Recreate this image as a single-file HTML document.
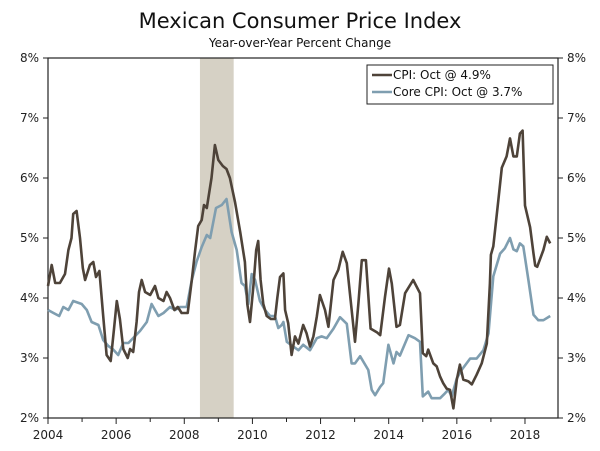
<!DOCTYPE html>
<html><head><meta charset="utf-8"><style>
html,body{margin:0;padding:0;background:#fff;}
svg{display:block;font-family:"DejaVu Sans","Liberation Sans",sans-serif;}
</style></head><body>
<svg id="chart" width="600" height="451" viewBox="0 0 600 451">
<text x="300" y="28" text-anchor="middle" font-size="21" fill="#111">Mexican Consumer Price Index</text>
<text x="300" y="47" text-anchor="middle" font-size="12" fill="#111">Year-over-Year Percent Change</text>
<g id="plot"></g>
</svg>
<script>
const yTicks=[2,3,4,5,6,7,8];
const xTickYears=[2004,2005,2006,2007,2008,2009,2010,2011,2012,2013,2014,2015,2016,2017,2018];
const xLabelYears=[2004,2006,2008,2010,2012,2014,2016,2018];
const recession=[2008.46,2009.45];
const cpiDates=[2004.00,2004.11,2004.21,2004.35,2004.50,2004.60,2004.69,2004.74,2004.84,2004.94,2005.02,2005.09,2005.23,2005.33,2005.41,2005.51,2005.62,2005.72,2005.84,2005.94,2006.02,2006.11,2006.21,2006.34,2006.41,2006.50,2006.60,2006.67,2006.75,2006.85,2007.00,2007.14,2007.24,2007.39,2007.48,2007.58,2007.71,2007.81,2007.92,2008.10,2008.22,2008.32,2008.41,2008.51,2008.58,2008.66,2008.80,2008.90,2009.00,2009.13,2009.24,2009.34,2009.49,2009.64,2009.78,2009.85,2009.93,2010.03,2010.11,2010.17,2010.24,2010.32,2010.42,2010.54,2010.66,2010.73,2010.81,2010.91,2010.96,2011.05,2011.15,2011.25,2011.35,2011.49,2011.59,2011.69,2011.79,2011.89,2011.98,2012.13,2012.23,2012.38,2012.52,2012.65,2012.77,2012.86,2013.01,2013.11,2013.21,2013.33,2013.47,2013.65,2013.75,2013.89,2014.01,2014.09,2014.23,2014.33,2014.48,2014.72,2014.92,2015.00,2015.10,2015.16,2015.31,2015.41,2015.51,2015.60,2015.70,2015.80,2015.90,2016.00,2016.09,2016.19,2016.34,2016.44,2016.58,2016.73,2016.88,2016.97,2017.00,2017.07,2017.22,2017.32,2017.46,2017.56,2017.66,2017.76,2017.85,2017.93,2018.00,2018.15,2018.25,2018.30,2018.36,2018.54,2018.64,2018.74];
const cpiValues=[4.2,4.55,4.25,4.25,4.4,4.8,5.0,5.4,5.45,5.0,4.5,4.3,4.55,4.6,4.35,4.45,3.7,3.05,2.95,3.5,3.95,3.65,3.15,3.0,3.15,3.1,3.6,4.1,4.3,4.1,4.05,4.2,4.0,3.95,4.1,4.0,3.8,3.85,3.75,3.75,4.3,4.8,5.2,5.3,5.55,5.5,6.0,6.55,6.3,6.2,6.15,6.0,5.6,5.1,4.6,3.9,3.6,4.2,4.8,4.95,4.3,3.9,3.7,3.65,3.65,4.0,4.35,4.41,3.8,3.58,3.05,3.36,3.24,3.55,3.41,3.19,3.36,3.69,4.05,3.8,3.52,4.3,4.47,4.77,4.58,4.08,3.27,3.91,4.63,4.63,3.49,3.43,3.38,4.02,4.49,4.24,3.52,3.55,4.08,4.3,4.08,3.08,3.03,3.14,2.91,2.86,2.69,2.58,2.49,2.47,2.16,2.64,2.89,2.64,2.61,2.56,2.72,2.91,3.24,4.24,4.72,4.86,5.64,6.17,6.36,6.66,6.36,6.36,6.74,6.79,5.54,5.18,4.74,4.54,4.52,4.8,5.02,4.91];
const coreDates=[2004.00,2004.16,2004.33,2004.45,2004.60,2004.74,2004.99,2005.14,2005.28,2005.48,2005.62,2005.77,2005.90,2006.06,2006.21,2006.36,2006.70,2006.90,2007.04,2007.24,2007.39,2007.58,2007.73,2007.87,2008.07,2008.22,2008.36,2008.51,2008.66,2008.76,2008.93,2009.10,2009.24,2009.39,2009.54,2009.68,2009.78,2009.88,2009.98,2010.08,2010.22,2010.37,2010.52,2010.66,2010.76,2010.86,2010.91,2011.01,2011.20,2011.35,2011.49,2011.69,2011.89,2012.03,2012.18,2012.38,2012.57,2012.77,2012.91,2013.01,2013.16,2013.40,2013.50,2013.60,2013.75,2013.84,2013.99,2014.14,2014.23,2014.33,2014.58,2014.77,2014.92,2015.00,2015.16,2015.26,2015.51,2015.65,2015.75,2015.85,2016.00,2016.14,2016.39,2016.58,2016.78,2016.93,2017.07,2017.27,2017.41,2017.56,2017.66,2017.76,2017.85,2017.95,2018.10,2018.25,2018.39,2018.54,2018.74];
const coreValues=[3.8,3.75,3.7,3.85,3.8,3.95,3.9,3.8,3.6,3.55,3.3,3.2,3.15,3.05,3.25,3.25,3.45,3.6,3.9,3.7,3.75,3.85,3.8,3.85,3.85,4.3,4.6,4.85,5.05,5.0,5.5,5.55,5.65,5.1,4.8,4.25,4.2,3.9,4.4,4.3,3.95,3.8,3.7,3.7,3.5,3.55,3.6,3.27,3.19,3.13,3.22,3.13,3.33,3.36,3.33,3.49,3.68,3.57,2.91,2.91,3.03,2.8,2.47,2.38,2.52,2.58,3.22,2.91,3.1,3.04,3.38,3.33,3.27,2.36,2.44,2.33,2.33,2.41,2.47,2.36,2.66,2.8,2.99,2.99,3.13,3.41,4.36,4.74,4.83,5.0,4.81,4.78,4.91,4.86,4.3,3.72,3.63,3.63,3.7];

const L=48,R=558,T=58,B=418;
const xs=y=>L+(y-2004)*34.07;
const ys=v=>B-(v-2)*(B-T)/6;
const NS='http://www.w3.org/2000/svg';
const g=document.getElementById('plot');
function mk(t,a,p){const e=document.createElementNS(NS,t);for(const k in a)e.setAttribute(k,a[k]);(p||g).appendChild(e);return e;}

const band=mk('rect',{x:xs(recession[0]),y:T,width:xs(recession[1])-xs(recession[0]),height:B-T,fill:'#d6d1c5'});



const frame=mk('rect',{x:L,y:T,width:R-L,height:B-T,fill:'none',stroke:'#222','stroke-width':1.2});



yTicks.forEach(v=>{
  const y=ys(v);
  mk('line',{x1:L-5,x2:L,y1:y,y2:y,stroke:'#222'});
  mk('line',{x1:R,x2:R+5,y1:y,y2:y,stroke:'#222'});
  const tl=mk('text',{x:L-9,y:y+4,'text-anchor':'end','font-size':12,fill:'#222'});tl.textContent=v+'%';
  
  
  const tr=mk('text',{x:R+9,y:y+4,'text-anchor':'start','font-size':12,fill:'#222'});tr.textContent=v+'%';
  
  
});
xTickYears.forEach(yr=>{
  const x=xs(yr);
  mk('line',{x1:x,x2:x,y1:B,y2:B+(xLabelYears.includes(yr)?6:4),stroke:'#222'});
});
xLabelYears.forEach(yr=>{
  const t=mk('text',{x:xs(yr),y:B+21,'text-anchor':'middle','font-size':12,fill:'#222'});t.textContent=yr;
  
  
});

function line(d,v,c,name){
  const p=mk('path',{d:d.map((t,i)=>(i?'L':'M')+xs(t).toFixed(1)+','+ys(v[i]).toFixed(1)).join(''),fill:'none',stroke:c,'stroke-width':2.6,'stroke-linejoin':'round'});
  
  
}
line(coreDates,coreValues,'#7f9eb0','core-cpi-line');
line(cpiDates,cpiValues,'#4e4339','cpi-line');

const lg=mk('g',{});


mk('rect',{x:367,y:65,width:186,height:39,fill:'#fff',stroke:'#222','stroke-width':1},lg);
mk('line',{x1:372,x2:392,y1:75,y2:75,stroke:'#4e4339','stroke-width':2.6},lg);
mk('line',{x1:372,x2:392,y1:92,y2:92,stroke:'#7f9eb0','stroke-width':2.6},lg);
const t1=mk('text',{x:393,y:79,'font-size':12,fill:'#111'},lg);t1.textContent='CPI: Oct @ 4.9%';


const t2=mk('text',{x:393,y:96,'font-size':12,fill:'#111'},lg);t2.textContent='Core CPI: Oct @ 3.7%';


</script>
</body></html>
